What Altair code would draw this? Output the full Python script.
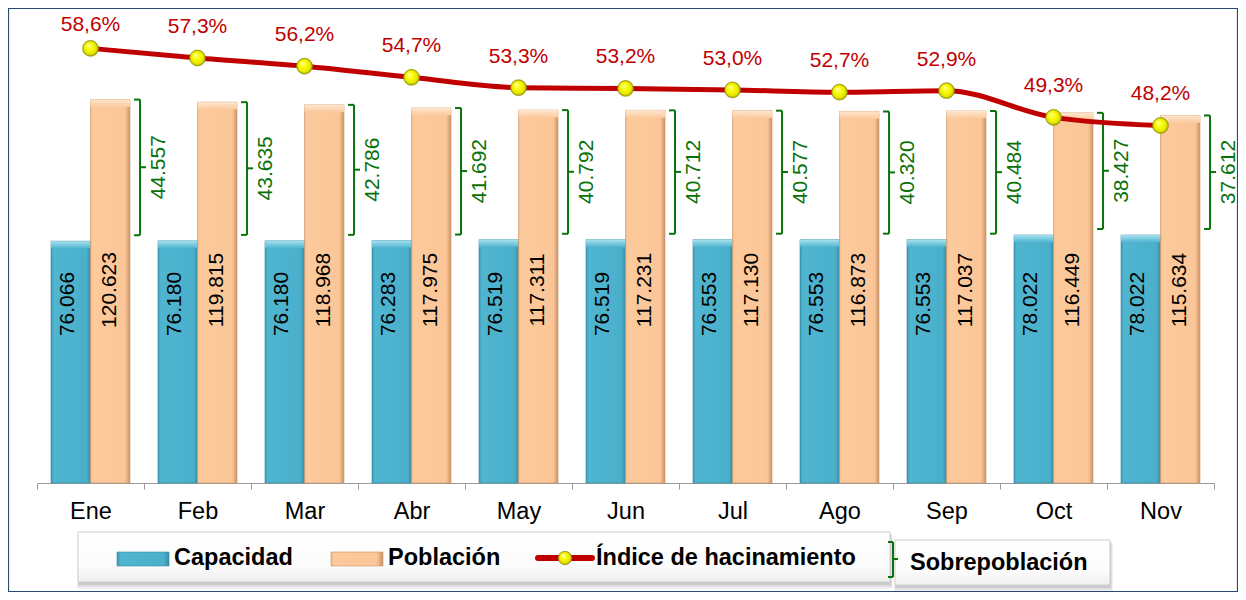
import altair as alt
import pandas as pd

# ---------------- data ----------------
meses = ["Ene", "Feb", "Mar", "Abr", "May", "Jun", "Jul", "Ago", "Sep", "Oct", "Nov"]
capacidad = [76066, 76180, 76180, 76283, 76519, 76519, 76553, 76553, 76553, 78022, 78022]
poblacion = [120623, 119815, 118968, 117975, 117311, 117231, 117130, 116873, 117037, 116449, 115634]
sobrepoblacion = [44557, 43635, 42786, 41692, 40792, 40712, 40577, 40320, 40484, 38427, 37612]
indice = [58.6, 57.3, 56.2, 54.7, 53.3, 53.2, 53.0, 52.7, 52.9, 49.3, 48.2]
series = ["Capacidad", "Población"]

wide = pd.DataFrame({"mes": meses, "cap": capacidad, "pob": poblacion,
                     "sobre": sobrepoblacion, "ind": indice})
long = pd.DataFrame({"mes": meses * 2,
                     "serie": [series[0]] * len(meses) + [series[1]] * len(meses),
                     "valor": capacidad + poblacion})

# ---------------- styling ----------------
W, H = 1177, 445
FONT = "Liberation Sans"
RED = "#c00000"
GREEN = "#0a720a"
AXIS_GRAY = "#9a9a9a"


def lgrad(stops, vertical=False):
    return alt.LinearGradient(
        gradient="linear",
        stops=[alt.GradientStop(color=c, offset=o) for o, c in stops],
        x1=0, y1=0, x2=0 if vertical else 1, y2=1 if vertical else 0)


cyan_grad = lgrad([(0, "#3b98b2"), (0.07, "#4fb5d0"), (0.9, "#4aafca"), (1, "#3a8ca3")])
peach_grad = lgrad([(0, "#f2b887"), (0.06, "#fcca9c"), (0.88, "#fbc597"), (1, "#c99468")])
cyan_top = lgrad([(0, "#a8e0ef"), (1, "#4fb5d0")], vertical=True)
peach_top = lgrad([(0, "#fee6cf"), (1, "#fcca9c")], vertical=True)
ball = alt.RadialGradient(
    gradient="radial",
    stops=[alt.GradientStop(color="#ffffd8", offset=0),
           alt.GradientStop(color="#ffff10", offset=0.35),
           alt.GradientStop(color="#e8e800", offset=0.8),
           alt.GradientStop(color="#a3a300", offset=1)],
    x1=0.35, y1=0.3, r1=0, x2=0.5, y2=0.5, r2=0.5)

xscale = alt.Scale(domain=meses, paddingInner=0, paddingOuter=0)
xaxis = alt.Axis(title=None, labelAngle=0, labelFont=FONT, labelFontSize=23.5,
                 labelColor="black", tickBand="extent", tickSize=6,
                 tickColor=AXIS_GRAY, domainColor=AXIS_GRAY, labelPadding=10,
                 grid=False)


def xenc(bp=None):
    if bp is None:
        return alt.X("mes:N", scale=xscale, axis=xaxis, sort=meses)
    return alt.X("mes:N", scale=xscale, axis=xaxis, sort=meses, bandPosition=bp)


bar_scale = alt.Scale(domain=[0, 140000], nice=False, zero=True)
line_scale = alt.Scale(domain=[0, 60], nice=False, zero=True)
xoff = alt.XOffset("serie:N", scale=alt.Scale(domain=series, paddingOuter=0.354, paddingInner=0))

# ---------------- bars ----------------
bars_src = alt.Chart(long)


def bar_layer(name, grad, topgrad, edge):
    b = bars_src.transform_filter(f"datum.serie == '{name}'")
    body = b.mark_bar(fill=grad, stroke=edge, strokeWidth=0.6).encode(
        x=xenc(), xOffset=xoff,
        y=alt.Y("valor:Q", scale=bar_scale, axis=None))
    top = b.transform_calculate(v2="datum.valor - 2300").mark_bar(fill=topgrad).encode(
        x=xenc(), xOffset=xoff,
        y=alt.Y("valor:Q", scale=bar_scale, axis=None), y2="v2:Q")
    return body + top


cap_bars = bar_layer("Capacidad", cyan_grad, cyan_top, "#3a8ca3")
pob_bars = bar_layer("Población", peach_grad, peach_top, "#c99468")

w = alt.Chart(wide).transform_calculate(
    tcap="replace(format(datum.cap, ',d'), ',', '.')",
    tpob="replace(format(datum.pob, ',d'), ',', '.')",
    tsob="replace(format(datum.sobre, ',d'), ',', '.')",
    mid="(datum.pob + datum.cap) / 2 + 1000",
    tind="replace(format(datum.ind, '.1f'), '.', ',') + '%'",
    ly="min(datum.ind + 4.19, 61.7)",
)

lab_kw = dict(angle=270, font=FONT, fontSize=21, color="black", align="center", baseline="middle")
cap_lab = w.mark_text(**lab_kw).encode(x=xenc(0.29), y=alt.value(266), text="tcap:N")
pob_lab = w.mark_text(**lab_kw).encode(x=xenc(0.685), y=alt.value(252), text="tpob:N")

# ---------------- brackets (sobrepoblación) ----------------
BR = 0.963
br_v = w.mark_rule(color=GREEN, strokeWidth=2, y2Offset=-6).encode(
    x=xenc(BR), y=alt.Y("pob:Q", scale=bar_scale, axis=None), y2="cap:Q")
serif_kw = dict(shape="M -1 0 L 0 0", filled=False, size=144, color=GREEN,
                strokeWidth=2, opacity=1)
br_top = w.mark_point(**serif_kw).encode(
    x=xenc(BR), y=alt.Y("pob:Q", scale=bar_scale, axis=None))
br_bot = w.mark_point(yOffset=-6, **serif_kw).encode(
    x=xenc(BR), y=alt.Y("cap:Q", scale=bar_scale, axis=None))
br_nub = w.mark_point(shape="M 0 0 L 1 0", filled=False, size=144, color=GREEN,
                      strokeWidth=2, opacity=1).encode(
    x=xenc(BR), y=alt.Y("mid:Q", scale=bar_scale, axis=None))
br_lab = w.mark_text(angle=270, dy=19, font=FONT, fontSize=21, color=GREEN,
                     align="center", baseline="middle").encode(
    x=xenc(BR), y=alt.Y("mid:Q", scale=bar_scale, axis=None), text="tsob:N")

bar_group = alt.layer(cap_bars, pob_bars, cap_lab, pob_lab, br_v, br_top, br_bot, br_nub, br_lab)

# ---------------- line (índice de hacinamiento) ----------------
line = w.mark_line(color=RED, strokeWidth=5, interpolate="monotone").encode(
    x=xenc(), y=alt.Y("ind:Q", scale=line_scale, axis=None))
pts = w.mark_point(shape="circle", filled=True, size=250, fill=ball, opacity=1,
                   stroke="#8a8a00", strokeWidth=0.7).encode(
    x=xenc(), y=alt.Y("ind:Q", scale=line_scale, axis=None))
pct = w.mark_text(font=FONT, fontSize=21, color=RED, align="center", baseline="middle").encode(
    x=xenc(), y=alt.Y("ly:Q", scale=line_scale, axis=None), text="tind:N")

line_group = alt.layer(line, pts, pct)

# ---------------- legend / frame (decoration) ----------------
base = alt.Chart(pd.DataFrame({"k": [0]}))


def rect(x1, x2, y1, y2, **kw):
    return base.mark_rect(**kw).encode(x=alt.value(x1), x2=alt.value(x2),
                                       y=alt.value(y1), y2=alt.value(y2))


def hrule(x1, x2, y, **kw):
    return base.mark_rule(**kw).encode(x=alt.value(x1), x2=alt.value(x2), y=alt.value(y))


def vrule(x, y1, y2, **kw):
    return base.mark_rule(**kw).encode(x=alt.value(x), y=alt.value(y1), y2=alt.value(y2))


def label(x, y, txt, **kw):
    return base.mark_text(align="left", baseline="middle", font=FONT, fontSize=23.5,
                          fontWeight="bold", color="black", **kw).encode(
        x=alt.value(x), y=alt.value(y), text=alt.value(txt))


box_grad = lgrad([(0, "#ffffff"), (0.7, "#fbfbfb"), (1, "#efefef")], vertical=True)


def legend_box(x1, x2, y1, y2):
    return [
        rect(x1 - 1, x2 + 3, y1 + 3, y2 + 7, color="#000000", opacity=0.05),
        rect(x1, x2 + 2, y1 + 2, y2 + 5, color="#000000", opacity=0.07),
        rect(x1, x2 + 1, y1 + 1, y2 + 3, color="#000000", opacity=0.09),
        rect(x1, x2, y1, y2, fill=box_grad, stroke="#cfcfcf", strokeWidth=1),
    ]


frame = rect(-28.5, W + 23.5, -29.5, H + 108.5, fillOpacity=0, stroke="#2b4a73", strokeWidth=1.2)

legend = legend_box(41, 853, 494, 544) + legend_box(858, 1073, 502, 547) + [
    rect(80, 132, 514, 528, fill=cyan_grad, stroke="#3a8ca3", strokeWidth=0.6),
    label(137, 520, "Capacidad"),
    rect(294, 346, 514, 528, fill=peach_grad, stroke="#c99468", strokeWidth=0.6),
    label(351, 520, "Población"),
    hrule(501, 555, 520, color=RED, strokeWidth=6, strokeCap="round"),
    base.mark_point(shape="circle", filled=True, size=180, fill=ball, opacity=1,
                    stroke="#8a8a00", strokeWidth=0.7).encode(x=alt.value(528), y=alt.value(520)),
    label(559, 520, "Índice de hacinamiento"),
    vrule(856, 504, 539, color=GREEN, strokeWidth=2),
    hrule(851, 856, 504, color=GREEN, strokeWidth=2),
    hrule(851, 856, 539, color=GREEN, strokeWidth=2),
    hrule(856, 861, 521, color=GREEN, strokeWidth=2),
    label(873, 525, "Sobrepoblación"),
]

chart = alt.layer(frame, bar_group, line_group, *legend).resolve_scale(
    y="independent"
).properties(
    width=W, height=H,
    autosize=alt.AutoSizeParams(type="none"),
    padding={"left": 29, "top": 30, "right": 24, "bottom": 109},
    background="white",
).configure_view(strokeWidth=0).configure_text(font=FONT)

chart.save("out.html", embed_options={"renderer": "svg", "actions": False})
